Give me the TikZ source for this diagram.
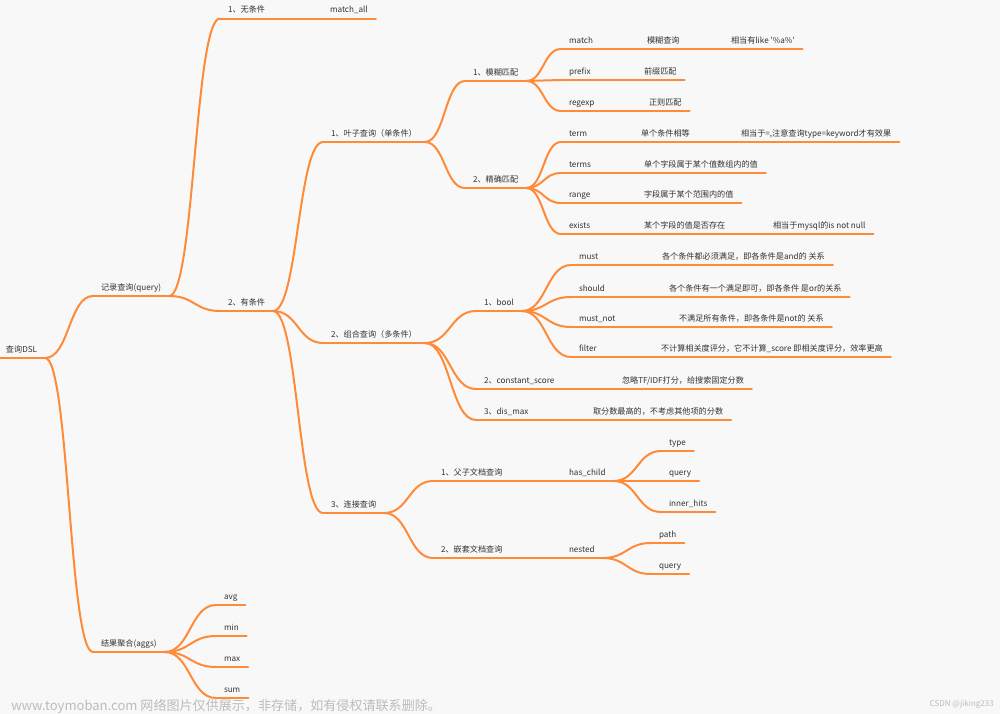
\documentclass[tikz,border=0pt]{standalone}
\usepackage{fontspec}
\setmainfont{Noto Sans CJK SC}
\newfontfamily\plainfont{Noto Sans CJK SC}
\usepackage{tikz}
\usetikzlibrary{calc}

\definecolor{limbc}{RGB}{255,138,56}
\definecolor{inkc}{RGB}{51,51,51}
\definecolor{paperc}{RGB}{248,248,248}
\definecolor{wmarkc}{RGB}{188,188,188}

% S-shaped branch from the end of one underline to the start of the next
\newcommand\linkto[2]{%
  \coordinate (mid) at ($(#1.south east)!0.5!(#2.south west)$);
  \draw[limb] (#1.south east) .. controls (mid |- #1.south east) and (mid |- #2.south west) .. (#2.south west);}

\begin{document}
\begin{tikzpicture}[x=0.75pt, y=-0.75pt,
  limb/.style={draw=limbc, line width=1.5pt, line cap=round},
  item/.style={anchor=south west, inner xsep=6pt, inner ysep=4.5pt, outer sep=0pt,
    text depth=0pt, text=inkc, font=\fontsize{6.1}{7}\selectfont},
  wmark/.style={inner sep=0pt, text=wmarkc}]
  % Paper
  \fill[paperc] (0,0) rectangle (1000,714);
  \useasboundingbox (0,0) rectangle (1000,714);
  % Root and first level
  \node[item] (root) at (-2,358) {查询DSL};
  \node[item] (query) at (93,296) {记录查询(query)};
  \node[item] (aggs) at (93,652) {结果聚合(aggs)};
  % Record query
  \node[item] (nocond) at (220,18.5) {1、无条件};
  \node[item] (matchall) at (322,18.5) {match\_all};
  \node[item] (cond) at (220,311) {2、有条件};
  \node[item] (leaf) at (323,142) {1、叶子查询（单条件）};
  \node[item] (combo) at (323,343) {2、组合查询（多条件）};
  \node[item] (join) at (323,513) {3、连接查询};
  % Leaf queries
  \node[item] (fuzzy) at (465,81) {1、模糊匹配};
  \node[item] (exact) at (465,188) {2、精确匹配};
  \node[item] (match) at (561,49) {match};
  \node[item] (matchd) at (639,49) {模糊查询};
  \node[item] (matchn) at (723,49) {{\plainfont 相当有like '\%a\%'}};
  \node[item] (prefix) at (561,80) {prefix};
  \node[item] (prefixd) at (636,80) {前缀匹配};
  \node[item] (regexp) at (561,111) {regexp};
  \node[item] (regexpd) at (641,111) {正则匹配};
  \node[item] (term) at (561,142) {term};
  \node[item] (termd) at (633,142) {单个条件相等};
  \node[item] (termn) at (733,142) {相当于=,注意查询type=keyword才有效果};
  \node[item] (terms) at (561,173) {terms};
  \node[item] (termsd) at (636,173) {单个字段属于某个值数组内的值};
  \node[item] (range) at (561,203) {range};
  \node[item] (ranged) at (636,203) {字段属于某个范围内的值};
  \node[item] (exists) at (561,234) {exists};
  \node[item] (existsd) at (636,234) {某个字段的值是否存在};
  \node[item] (existsn) at (765,234) {相当于mysql的is not null};
  % Compound queries
  \node[item] (bool) at (476,311) {1、bool};
  \node[item] (cscore) at (476,389) {2、constant\_score};
  \node[item] (cscored) at (614,389) {忽略TF/IDF打分，给搜索固定分数};
  \node[item] (dismax) at (476,420) {3、dis\_max};
  \node[item] (dismaxd) at (585,420) {取分数最高的，不考虑其他项的分数};
  \node[item] (must) at (571,265) {must};
  \node[item] (mustd) at (654,265) {各个条件都必须满足，即各条件是and的 关系};
  \node[item] (should) at (571,297) {should};
  \node[item] (shouldd) at (661,297) {各个条件有一个满足即可，即各条件 是or的关系};
  \node[item] (mustnot) at (571,327) {must\_not};
  \node[item] (mustnotd) at (671,327) {不满足所有条件，即各条件是not的 关系};
  \node[item] (filter) at (571,357) {filter};
  \node[item] (filterd) at (653,357) {不计算相关度评分，它不计算\_score 即相关度评分，效率更高};
  % Join queries
  \node[item] (parent) at (433,481) {1、父子文档查询};
  \node[item] (haschild) at (561,481) {has\_child};
  \node[item] (nested) at (433,558) {2、嵌套文档查询};
  \node[item] (nestedk) at (561,558) {nested};
  \node[item] (type) at (661,451) {type};
  \node[item] (hquery) at (661,481) {query};
  \node[item] (inner) at (661,512) {inner\_hits};
  \node[item] (path) at (651,543) {path};
  \node[item] (nquery) at (651,574) {query};
  % Aggregations
  \node[item] (avg) at (216,605) {avg};
  \node[item] (min) at (216,636) {min};
  \node[item] (max) at (216,667) {max};
  \node[item] (sum) at (216,698) {sum};
  % Underlines
  \foreach \n in {root,query,aggs,nocond,matchall,cond,leaf,combo,join,
    fuzzy,exact,match,matchd,matchn,prefix,prefixd,regexp,regexpd,
    term,termd,termn,terms,termsd,range,ranged,exists,existsd,existsn,
    bool,cscore,cscored,dismax,dismaxd,must,mustd,should,shouldd,
    mustnot,mustnotd,filter,filterd,parent,haschild,nested,nestedk,
    type,hquery,inner,path,nquery,avg,min,max,sum}
    \draw[limb] (\n.south west) -- (\n.south east);
  % Branches
  \foreach \a/\b in {root/query,root/aggs,query/nocond,query/cond,nocond/matchall,
    cond/leaf,cond/combo,cond/join,leaf/fuzzy,leaf/exact,
    fuzzy/match,fuzzy/prefix,fuzzy/regexp,match/matchd,matchd/matchn,
    prefix/prefixd,regexp/regexpd,exact/term,exact/terms,exact/range,exact/exists,
    term/termd,termd/termn,terms/termsd,range/ranged,exists/existsd,existsd/existsn,
    combo/bool,combo/cscore,combo/dismax,cscore/cscored,dismax/dismaxd,
    bool/must,bool/should,bool/mustnot,bool/filter,must/mustd,should/shouldd,
    mustnot/mustnotd,filter/filterd,join/parent,join/nested,
    parent/haschild,nested/nestedk,haschild/type,haschild/hquery,haschild/inner,
    nestedk/path,nestedk/nquery,aggs/avg,aggs/min,aggs/max,aggs/sum}
    \linkto{\a}{\b};
  % Watermarks
  \node[wmark, anchor=west, font=\fontsize{9.8}{12}\selectfont] (site) at (11,706) {www.toymoban.com 网络图片仅供展示，非存储，如有侵权请联系删除。};
  \node[wmark, anchor=east, font=\fontsize{6}{7}\selectfont] (csdn) at (994,704) {CSDN @jiking233};
\end{tikzpicture}
\end{document}
